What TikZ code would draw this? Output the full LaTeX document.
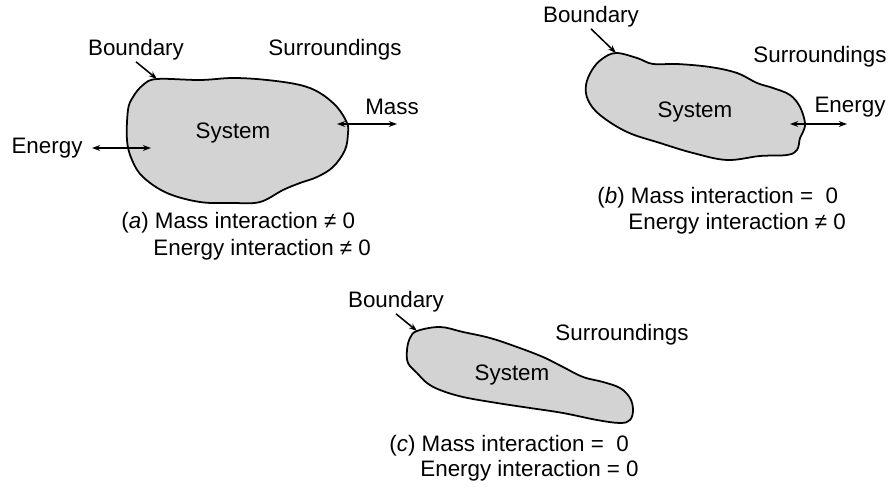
\documentclass[tikz,border=0pt]{standalone}
\usepackage{fontspec}
\setmainfont{Liberation Sans}
\usetikzlibrary{arrows.meta}
\definecolor{sysgray}{RGB}{211,211,211}
\tikzset{
  blob/.style={draw=black,line width=1.5pt,fill=sysgray},
  flow/.style={line width=1.3pt},
}

\begin{document}
\begin{tikzpicture}[x=0.03cm,y=-0.03cm,font=\fontsize{19.1}{22}\selectfont,
  >={Stealth[length=7pt,width=5pt]}]
\useasboundingbox (0,0) rectangle (891,489);

% the three systems
\draw[blob] plot[smooth cycle,tension=0.6] coordinates {(157,79) (200,80) (233,78) (267,80) (300,85) (320,93) (337,107) (347,123) (348,133) (345,150) (333,167) (317,177) (300,183) (283,190) (260,202) (233,203) (200,202) (167,193) (143,177) (132,160) (127,140) (128,110) (133,97) (143,85)};
\draw[blob] plot[smooth cycle,tension=0.6] coordinates {(616,53) (637,58) (653,64) (677,64) (710,67) (737,73) (757,83) (773,88) (790,95) (800,107) (805,123) (803,132) (800,138) (797,150) (787,155) (760,156) (727,160) (693,153) (660,143) (627,132) (600,115) (588,100) (586,85) (592,70) (602,59)};
\draw[blob] plot[smooth cycle,tension=0.6] coordinates {(417,331) (440,327) (463,332) (490,338) (517,347) (543,357) (563,367) (583,377) (603,382) (620,388) (630,398) (633,410) (630,420) (620,423) (597,420) (563,413) (530,408) (497,403) (463,397) (440,390) (427,383) (417,373) (408,363) (407,350) (410,338)};

\begin{scope}[every node/.style={inner sep=1pt}]
  \node (Ba) at (136,50) {Boundary};
  \node (Sa) at (335,50) {Surroundings};
  \node (Ma) at (392,107) {Mass};
  \node (Ya) at (233,133) {System};
  \node (Ea) at (47,148) {Energy};
  \node[anchor=west] (Ca1) at (120,223) {(\textit{a}) Mass interaction ≠ 0};
  \node[anchor=west] (Ca2) at (152,250) {Energy interaction ≠ 0};

  \node (Bb) at (591,17) {Boundary};
  \node (Sb) at (820,57) {Surroundings};
  \node (Eb) at (850,107) {Energy};
  \node (Yb) at (695,112) {System};
  \node[anchor=west] (Cb1) at (596,198) {(\textit{b}) Mass interaction = \ 0};
  \node[anchor=west] (Cb2) at (627,224) {Energy interaction ≠ 0};

  \node (Bc) at (396,302) {Boundary};
  \node (Sc) at (622,335) {Surroundings};
  \node (Yc) at (512,375) {System};
  \node[anchor=west] (Cc1) at (388,446) {(\textit{c}) Mass interaction = \ 0};
  \node[anchor=west] (Cc2) at (419,471) {Energy interaction = 0};
\end{scope}

\coordinate (ea1) at (92,148);  \coordinate (ea2) at (151,148);
\coordinate (ma1) at (337,124); \coordinate (ma2) at (397,124);
\coordinate (eb1) at (790,124); \coordinate (eb2) at (847,124);
\coordinate (ba) at (157,79);
\coordinate (bb) at (616,53);
\coordinate (bc) at (417,331);

\path[flow,<->] (ea1) edge (ea2);
\path[flow,<->] (ma1) edge (ma2);
\path[flow,<->] (eb1) edge (eb2);
\path[flow,->] (Ba.south) edge (ba);
\path[flow,->] (Bb.south) edge (bb);
\path[flow,->] (Bc.south) edge (bc);
\end{tikzpicture}
\end{document}
